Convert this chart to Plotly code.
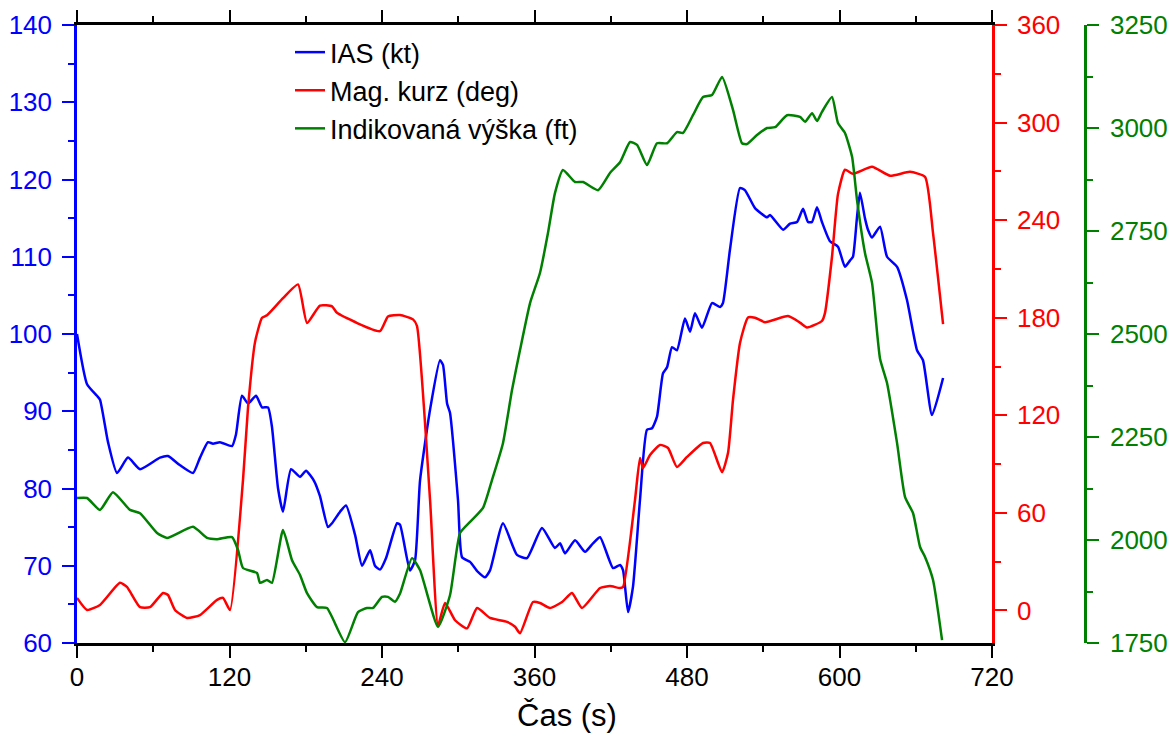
import plotly.graph_objects as go

# ---- data (time in seconds) ----
ias_t = [0.0, 7.9, 15.7, 18.1, 24.4, 31.5, 40.1, 49.6, 65.3, 71.6, 81.1, 91.3, 96.8, 103.1, 107.0,
         112.5, 122.0, 125.1, 129.8, 134.6, 140.9, 145.6, 150.3, 153.4, 158.2, 162.1, 168.4, 175.5,
         180.2, 186.5, 191.2, 197.5, 200.7, 207.0, 211.7, 218.8, 224.3, 230.6, 234.5, 238.4, 243.2,
         251.8, 254.2, 262.0, 266.0, 269.9, 277.8, 285.6, 288.0, 291.2, 293.5, 299.8, 303.0, 309.3,
         315.5, 321.1, 325.0, 335.2, 346.2, 354.1, 365.9, 376.1, 380.1, 384.0, 391.9, 399.8, 406.0,
         411.6, 421.8, 427.3, 429.7, 433.6, 437.5, 443.0, 448.5, 452.5, 456.4, 461.1, 464.3, 468.2,
         472.1, 478.4, 482.4, 486.3, 491.8, 499.7, 506.0, 508.3, 513.8, 521.7, 525.7, 533.5, 543.0,
         545.3, 555.6, 561.1, 566.6, 571.3, 575.2, 578.4, 582.3, 586.2, 592.5, 598.8, 604.3, 608.2,
         610.6, 613.7, 616.1, 620.0, 622.4, 625.6, 631.9, 637.4, 645.3, 653.1, 661.0, 665.7, 672.8,
         681.5]
ias_kt = [100, 93.5, 92, 91.5, 86, 82, 84, 82.5, 84, 84.2, 83, 82, 84, 86, 85.8,
          86, 85.5, 87, 92, 91, 92, 90.5, 90.5, 88, 80, 77, 82.5, 81.5,
          82.3, 81, 79, 75, 75.5, 77, 77.8, 74, 70, 72, 70, 69.5, 71,
          75.5, 75.3, 69.4, 70.7, 81, 90.2, 96.6, 96, 91, 89.8, 78.5, 71.1, 70.5,
          69.2, 68.5, 69.4, 75.5, 71.4, 71, 74.9, 72.3, 72.9, 71.6, 73.3, 71.8, 72.9,
          73.7, 69.7, 70.1, 69.4, 64, 67.3, 78.5, 87.6, 87.8, 89.3, 94.9, 95.7, 98.3,
          97.9, 102, 100.3, 102.7, 100.8, 104, 103.5, 104, 110.9, 118.9, 118.6, 116.3, 115.1,
          115.4, 113.5, 114.3, 114.5, 116.2, 114.5, 114.5, 116.4, 114.5, 112, 111.3, 108.7, 109.5,
          110, 115, 118.3, 115, 113.5, 112.5, 113.9, 110, 108.7, 104.4, 97.9, 96.6, 89.5,
          94.3]

hdg_t = [0.0, 7.9, 18.1, 33.8, 39.3, 49.6, 57.4, 67.7, 71.6, 77.1, 86.6, 96.8, 110.2, 114.9,
         120.4, 130.6, 134.6, 140.1, 145.6, 149.5, 162.1, 173.9, 181.0, 191.2, 200.7, 204.6,
         238.4, 244.7, 254.2, 264.4, 267.5, 277.8, 284.1, 289.6, 297.5, 306.9, 314.8, 325.0,
         338.4, 344.7, 348.6, 358.8, 364.3, 372.2, 381.7, 389.5, 397.4, 411.6, 419.4, 427.3,
         429.7, 439.1, 443.0, 445.4, 450.9, 458.8, 465.1, 472.1, 480.0, 492.6, 498.1, 507.6,
         512.3, 516.2, 521.7, 528.0, 533.5, 541.4, 559.5, 568.9, 574.4, 586.2, 588.6, 594.1,
         598.8, 604.3, 610.6, 625.6, 639.8, 655.5, 667.3, 673.6, 681.5]
hdg_deg = [7.7, 0.3, 3.4, 17, 14.5, 2, 2, 10.8, 9.5, 0.3, -4.6, -2.8, 6.5, 7.7,
           0.3, 80, 125, 165, 180, 181.5, 192, 200.5, 176.8, 187.5, 187, 183,
           171.8, 180.8, 181.7, 179, 175, 68, -9, 4.6, -6, -11, 1.5, -4.6,
           -7, -10, -14, 5.2, 4.6, 1.5, 5.2, 10.8, 1.5, 13.8, 15, 13.8,
           14.5, 68, 93.8, 87.6, 95.6, 101.8, 99.9, 88.2, 94.4, 103, 103, 85,
           97, 129.5, 164.5, 180.2, 180, 177.3, 181, 177, 174, 178, 183, 217.5,
           256, 271, 268.5, 272.8, 267.3, 269.7, 266.6, 232, 176]

alt_t = [0.0, 7.9, 18.1, 28.3, 41.7, 49.6, 63.0, 70.8, 91.3, 102.3, 110.2, 122.0, 126.7, 130.6,
         141.6, 144.0, 149.5, 153.4, 162.1, 169.2, 175.5, 181.0, 188.9, 196.7, 210.9, 221.1,
         228.2, 232.9, 240.0, 244.7, 250.2, 254.2, 263.6, 269.9, 284.1, 293.5, 301.4, 309.3,
         319.5, 326.6, 335.2, 342.3, 348.6, 356.5, 364.3, 370.6, 376.1, 382.4, 391.9, 398.2,
         410.0, 419.4, 427.3, 435.2, 440.7, 448.5, 456.4, 464.3, 472.1, 476.9, 484.7, 492.6,
         499.7, 507.6, 516.2, 523.3, 527.2, 535.1, 543.0, 549.3, 558.7, 568.9, 572.9, 578.4,
         582.3, 586.2, 594.1, 598.8, 604.3, 609.9, 613.8, 620.1, 625.6, 631.9, 637.4, 645.3,
         651.6, 657.9, 663.4, 667.3, 673.6, 680.7]
alt_ft = [2102, 2102, 2073, 2116, 2073, 2065, 2017, 2005, 2032, 2005, 2002, 2007, 1976, 1932,
          1920, 1896, 1903, 1896, 2024, 1951, 1915, 1871, 1837, 1835, 1752, 1825,
          1835, 1835, 1862, 1862, 1850, 1870, 1956, 1927, 1789, 1866, 2017, 2044,
          2078, 2146, 2235, 2364, 2461, 2575, 2648, 2745, 2842, 2898, 2869, 2869,
          2849, 2891, 2917, 2966, 2959, 2910, 2963, 2963, 2990, 2988, 3031, 3075,
          3080, 3124, 3044, 2963, 2961, 2983, 3000, 3002, 3031, 3027, 3015, 3036,
          3017, 3039, 3075, 3012, 2988, 2930, 2825, 2696, 2624, 2440, 2381, 2235,
          2104, 2065, 1983, 1959, 1903, 1757]

x_ticks = [0, 120, 240, 360, 480, 600, 720]
ias_ticks = [60, 70, 80, 90, 100, 110, 120, 130, 140]
hdg_ticks = [0, 60, 120, 180, 240, 300, 360]
alt_ticks = [1750, 2000, 2250, 2500, 2750, 3000, 3250]
x_title = "Čas (s)"

BLUE, RED, GREEN = "#0000FF", "#FF0000", "#008000"
FONT = "Liberation Sans, Arial, sans-serif"

ML, MR = 77, 90
PW = 1175 - ML - MR  # paper width in px

fig = go.Figure()
fig.add_trace(go.Scatter(x=ias_t, y=ias_kt, name="IAS (kt)", mode="lines",
                         line=dict(color=BLUE, width=2.5, shape="spline", smoothing=0.5)))
fig.add_trace(go.Scatter(x=hdg_t, y=hdg_deg, name="Mag. kurz (deg)", mode="lines", yaxis="y2",
                         line=dict(color=RED, width=2.5, shape="spline", smoothing=0.5)))
fig.add_trace(go.Scatter(x=alt_t, y=alt_ft, name="Indikovaná výška (ft)", mode="lines", yaxis="y3",
                         line=dict(color=GREEN, width=2.5, shape="spline", smoothing=0.5)))

common = dict(showgrid=False, zeroline=False, showline=True, linewidth=2.5,
              ticks="outside", ticklen=12, tickwidth=2, automargin=False)

fig.update_layout(
    width=1175, height=735,
    margin=dict(l=ML, r=MR, t=25, b=92, autoexpand=False),
    paper_bgcolor="white", plot_bgcolor="white",
    font=dict(family=FONT, size=26, color="black"),
    showlegend=True,
    legend=dict(x=(290 - ML) / PW, y=0.995, xanchor="left", yanchor="top",
                font=dict(size=27, color="black"), bgcolor="rgba(0,0,0,0)",
                tracegroupgap=0),
    xaxis=dict(domain=[0, 915 / PW], range=[0, 720], tickvals=x_ticks,
               linecolor="black", mirror="ticks", tickcolor="black",
               minor=dict(ticks="outside", ticklen=6, tickwidth=2, dtick=60, tick0=0, tickcolor="black"),
               tickfont=dict(size=26, color="black"), ticklabelstandoff=-3, **common),
    yaxis=dict(range=[60, 140], tickvals=ias_ticks, linecolor=BLUE, tickcolor=BLUE,
               minor=dict(ticks="outside", ticklen=6, tickwidth=2, dtick=5, tick0=0, tickcolor=BLUE),
               tickfont=dict(size=26, color=BLUE), ticklabelstandoff=5, **common),
    yaxis2=dict(range=[-20, 360], tickvals=hdg_ticks, overlaying="y", side="right", anchor="x",
                linecolor=RED, tickcolor=RED,
                minor=dict(ticks="outside", ticklen=6, tickwidth=2, dtick=30, tick0=0, tickcolor=RED),
                tickfont=dict(size=26, color=RED), ticklabelstandoff=5, **common),
    yaxis3=dict(range=[1750, 3250], tickvals=alt_ticks, overlaying="y", side="right",
                anchor="free", position=1.0, linecolor=GREEN, tickcolor=GREEN,
                minor=dict(ticks="outside", ticklen=6, tickwidth=2, dtick=125, tick0=0, tickcolor=GREEN),
                tickfont=dict(size=26, color=GREEN), ticklabelstandoff=6, **common),
    annotations=[dict(text=x_title, xref="paper", yref="paper",
                      x=(567 - ML) / PW, y=-72 / 618, xanchor="center", yanchor="middle",
                      showarrow=False, font=dict(size=31, color="black"))],
)

fig.write_html("out.html", config={"displayModeBar": False},
               post_script="document.body.style.margin='0';document.body.style.overflow='hidden';")
